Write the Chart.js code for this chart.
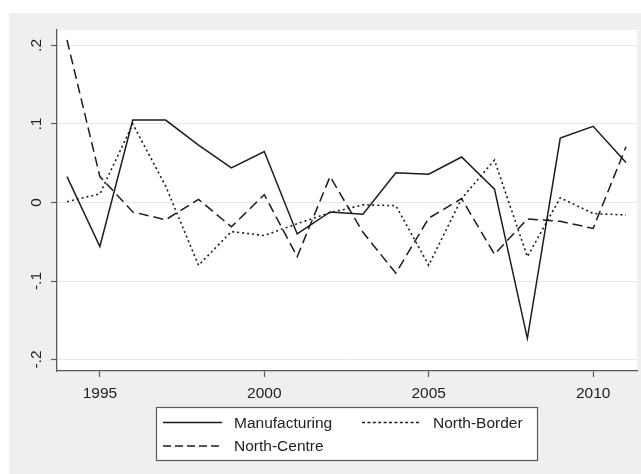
<!DOCTYPE html>
<html>
<head>
<meta charset="utf-8">
<script src="https://cdn.jsdelivr.net/npm/chart.js@4.4.0/dist/chart.umd.min.js"></script>
<style>
  html, body { margin: 0; padding: 0; background: #ffffff; }
  #wrap { width: 641px; height: 474px; }
</style>
</head>
<body>
<div id="wrap"><canvas id="c" width="641" height="474"></canvas></div>
<script>
// Annual series, 1994-2011
const years = [1994, 1995, 1996, 1997, 1998, 1999, 2000, 2001, 2002, 2003, 2004, 2005, 2006, 2007, 2008, 2009, 2010, 2011];
const manufacturing = [0.033, -0.056, 0.105, 0.105, 0.073, 0.044, 0.065, -0.040, -0.012, -0.015, 0.038, 0.036, 0.058, 0.017, -0.173, 0.082, 0.097, 0.051];
const northBorder = [0.001, 0.011, 0.100, 0.021, -0.080, -0.037, -0.042, -0.027, -0.013, -0.003, -0.004, -0.080, 0.005, 0.054, -0.069, 0.006, -0.014, -0.016];
const northCentre = [0.207, 0.033, -0.012, -0.022, 0.004, -0.031, 0.010, -0.069, 0.033, -0.038, -0.090, -0.020, 0.005, -0.066, -0.021, -0.024, -0.033, 0.071];

// Axis ticks
const xTicks = [1995, 2000, 2005, 2010];
const yTicks = [-0.2, -0.1, 0, 0.1, 0.2];

const FONT = "'Liberation Sans', Arial, sans-serif";
const INK = '#1c1c1c';
const AXIS = '#5a5a5a';

function pts(vals) {
  return years.map((yr, i) => ({ x: yr, y: vals[i] }));
}

function fmtY(v) {
  if (Math.abs(v) < 1e-9) return '0';
  return (v < 0 ? '-' : '') + '.' + Math.round(Math.abs(v) * 10);
}

// Grey graph region, white plot region, rotated y labels and boxed legend
const frame = {
  id: 'frame',
  beforeDraw(chart) {
    const { ctx, chartArea: a } = chart;
    ctx.save();
    ctx.fillStyle = '#ffffff';
    ctx.fillRect(0, 0, chart.width, chart.height);
    ctx.fillStyle = '#eef0f0';
    ctx.fillRect(9, 13, chart.width - 9, chart.height - 13);
    ctx.fillStyle = '#ffffff';
    ctx.fillRect(a.left, a.top, a.right - a.left, a.bottom - a.top);
    ctx.restore();
  },
  afterDraw(chart) {
    const { ctx } = chart;
    const ys = chart.scales.y;
    ctx.save();
    ctx.fillStyle = '#222';
    ctx.font = '15.5px ' + FONT;
    ctx.textAlign = 'center';
    ctx.textBaseline = 'middle';
    ys.ticks.forEach((t) => {
      const py = ys.getPixelForValue(t.value);
      ctx.save();
      ctx.translate(37, py);
      ctx.rotate(-Math.PI / 2);
      ctx.fillText(t.label, 0, 0);
      ctx.restore();
    });

    // legend box
    const bx = 156.5, by = 407.5, bw = 381, bh = 53;
    ctx.fillStyle = '#ffffff';
    ctx.fillRect(bx, by, bw, bh);
    ctx.strokeStyle = AXIS;
    ctx.lineWidth = 1.2;
    ctx.strokeRect(bx, by, bw, bh);

    const slots = [
      { x: 163, y: 422.5 },
      { x: 362, y: 422.5 },
      { x: 163, y: 446 }
    ];
    const legendDash = [[], [3, 2.4], [8, 4]];
    chart.data.datasets.forEach((ds, i) => {
      const s = slots[i];
      ctx.strokeStyle = ds.borderColor;
      ctx.lineWidth = 1.5;
      ctx.setLineDash(legendDash[i]);
      ctx.beginPath();
      ctx.moveTo(s.x, s.y);
      ctx.lineTo(s.x + 59, s.y);
      ctx.stroke();
      ctx.setLineDash([]);
      ctx.fillStyle = '#222';
      ctx.textAlign = 'left';
      ctx.textBaseline = 'middle';
      ctx.fillText(ds.label, s.x + 71, s.y + 1);
    });
    ctx.restore();
  }
};

new Chart(document.getElementById('c'), {
  type: 'line',
  data: {
    datasets: [
      { label: 'Manufacturing', data: pts(manufacturing), borderColor: INK, borderWidth: 1.5, borderDash: [] },
      { label: 'North-Border', data: pts(northBorder), borderColor: INK, borderWidth: 1.6, borderDash: [2, 3] },
      { label: 'North-Centre', data: pts(northCentre), borderColor: INK, borderWidth: 1.5, borderDash: [10, 5] }
    ]
  },
  options: {
    responsive: false,
    devicePixelRatio: 1,
    animation: false,
    layout: { padding: { top: 30, right: 4, left: 0, bottom: 0 } },
    elements: { point: { radius: 0 }, line: { tension: 0, fill: false } },
    plugins: { legend: { display: false }, tooltip: { enabled: false } },
    scales: {
      x: {
        type: 'linear',
        min: 1993.696,
        max: 2011.334,
        afterBuildTicks: (s) => { s.ticks = xTicks.map((v) => ({ value: v })); },
        afterFit: (s) => { s.height = 103; },
        ticks: {
          color: '#222',
          font: { family: FONT, size: 15.5 },
          padding: 7,
          maxRotation: 0,
          callback: (v) => String(v)
        },
        grid: { drawOnChartArea: false, drawTicks: true, tickLength: 6, tickColor: AXIS, tickWidth: 1.2 },
        border: { display: true, color: AXIS, width: 1.3 }
      },
      y: {
        type: 'linear',
        min: -0.2146,
        max: 0.2197,
        afterBuildTicks: (s) => { s.ticks = yTicks.map((v) => ({ value: v })); },
        afterFit: (s) => { s.width = 57; },
        ticks: { display: false, callback: (v) => fmtY(v) },
        grid: { color: '#e4e8e8', lineWidth: 1, drawTicks: true, tickLength: 6, tickColor: AXIS, tickWidth: 1.2 },
        border: { display: true, color: AXIS, width: 1.3 }
      }
    }
  },
  plugins: [frame]
});
</script>
</body>
</html>
